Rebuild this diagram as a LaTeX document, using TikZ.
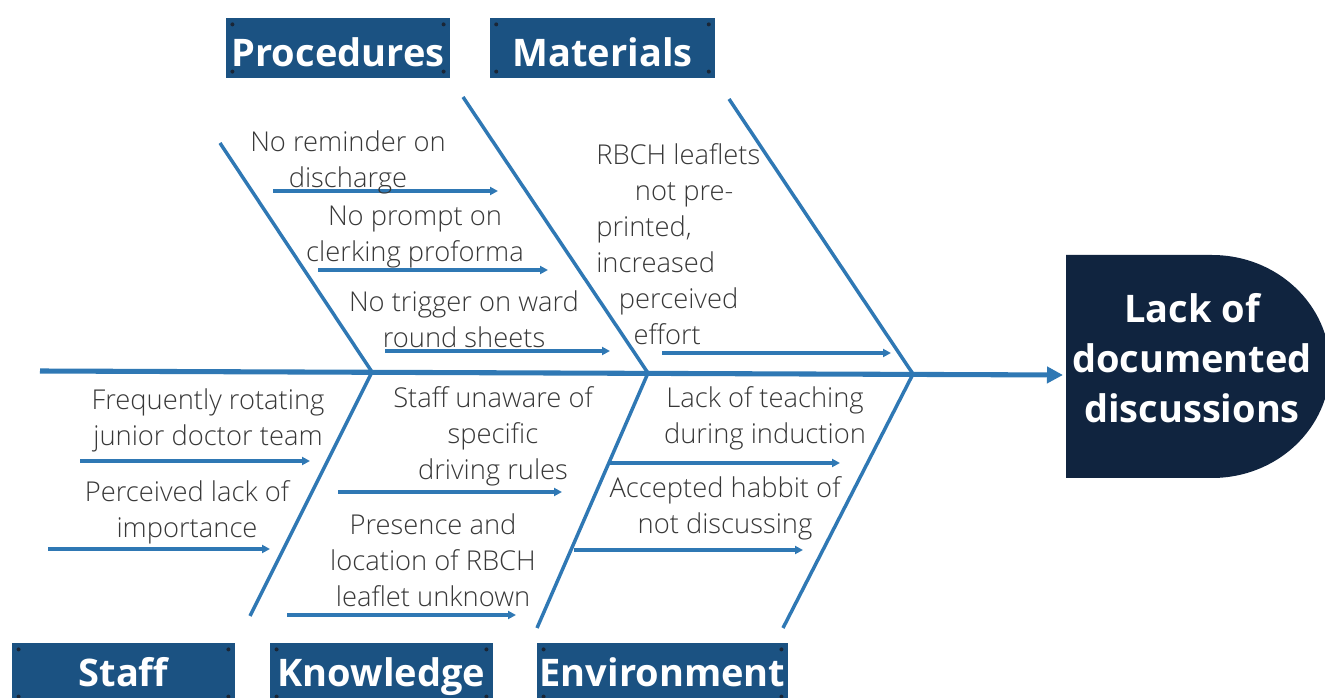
\documentclass[tikz,border=0pt]{standalone}
\usepackage{fontspec}
\setmainfont{Open Sans}
\newfontfamily\lightfont{Open Sans Light}
\usetikzlibrary{arrows.meta}
\definecolor{bone}{HTML}{2F78B4}
\definecolor{hdrblue}{HTML}{1B5282}
\definecolor{headnavy}{HTML}{10243F}
\definecolor{screw}{HTML}{1A2636}
\definecolor{txt}{HTML}{383838}
\tikzset{
  bonestyle/.style={draw=bone, line width=2.6pt},
  spinestyle/.style={draw=bone, line width=3.8pt, -{Triangle[length=12pt,width=12pt]}},
  cause/.style={draw=bone, line width=2.4pt, -{Triangle[length=6pt,width=6pt]}},
  hdr/.style={fill=hdrblue, text=white, font=\fontsize{28.5}{30}\selectfont\bfseries,
    minimum height=45pt, inner sep=0pt, text height=28pt, text depth=0pt},
  hdrlow/.style={hdr, text height=20pt},
  item/.style={text=txt, font=\lightfont\fontsize{20.5}{27}\selectfont, align=center, inner sep=0pt},
}
\newcommand{\screws}[1]{%
  \fill[screw] ([shift={(5pt,-5pt)}]#1.north west) circle (1.5pt);
  \fill[screw] ([shift={(-5pt,-5pt)}]#1.north east) circle (1.5pt);
  \fill[screw] ([shift={(5pt,5pt)}]#1.south west) circle (1.5pt);
  \fill[screw] ([shift={(-5pt,5pt)}]#1.south east) circle (1.5pt);}
\begin{document}
\begin{tikzpicture}[x=0.75pt,y=-0.75pt]
\useasboundingbox (0,0) rectangle (1325,698);
\fill[white] (0,0) rectangle (1325,698);

% effect head
\fill[headnavy] (1066,255) -- (1212,255) arc[start angle=-90, end angle=90, x radius=118, y radius=111.5] -- (1066,478) -- cycle;
\node[text=white, font=\fontsize{28.5}{37.5}\selectfont\bfseries, align=center, inner sep=0pt] (effect) at (1192,358) {Lack of\\documented\\discussions};
\coordinate (effin) at (1063,375);

% spine
\coordinate (tail) at (40,371);
\draw[spinestyle] (tail) -- (effin);

% bone end points
\coordinate (p1) at (220,143); \coordinate (j1) at (372,372);
\coordinate (p2) at (463,97);  \coordinate (j2) at (648,373);
\coordinate (p3) at (729,99);  \coordinate (j3) at (913,374);
\coordinate (q1) at (250,616);
\coordinate (q2) at (537,628);
\coordinate (q3) at (783,628);
\draw[bonestyle] (p1) -- (j1) -- (q1);
\draw[bonestyle] (p2) -- (j2) -- (q2);
\draw[bonestyle] (p3) -- (j3) -- (q3);

% category labels
\node[hdr, minimum width=168pt] (proc) at (338,48) {Procedures};
\node[hdr, minimum width=169pt] (mat) at (602.5,48) {Materials};
\node[hdrlow, minimum width=167pt] (staff) at (123.5,673) {Staff};
\node[hdrlow, minimum width=167pt] (know) at (381.5,673) {Knowledge};
\node[hdrlow, minimum width=188pt] (env) at (662.5,673) {Environment};
\screws{proc}\screws{mat}\screws{staff}\screws{know}\screws{env}

% cause arrows
\coordinate (a1s) at (273,191); \coordinate (a1e) at (498,191);
\coordinate (a2s) at (318,270); \coordinate (a2e) at (548,270);
\coordinate (a3s) at (385,351); \coordinate (a3e) at (610,351);
\coordinate (a4s) at (662,353); \coordinate (a4e) at (891,353);
\coordinate (b1s) at (80,461);  \coordinate (b1e) at (310,461);
\coordinate (b2s) at (48,549);  \coordinate (b2e) at (270,549);
\coordinate (b3s) at (338,492); \coordinate (b3e) at (562,492);
\coordinate (b4s) at (287,615); \coordinate (b4e) at (516,615);
\coordinate (b5s) at (610,463); \coordinate (b5e) at (840,463);
\coordinate (b6s) at (574,550); \coordinate (b6e) at (803,550);
\foreach \s/\e in {a1s/a1e,a2s/a2e,a3s/a3e,a4s/a4e,b1s/b1e,b2s/b2e,b3s/b3e,b4s/b4e,b5s/b5e,b6s/b6e}
  \draw[cause] (\s) -- (\e);

% cause texts
\node[item] (t1) at (348,162) {No reminder on\\discharge};
\node[item] (t2) at (415,237) {No prompt on\\clerking proforma};
\node[item] (t3) at (464,319) {No trigger on ward\\round sheets};
\node[item, align=left, anchor=north west] (t4) at (596,143) {RBCH leaflets\\\hspace*{29pt}not pre-\\printed,\\increased\\\hspace*{17pt}perceived\\\hspace*{28pt}effort};
\node[item] (t5) at (208,420) {Frequently rotating\\junior doctor team};
\node[item] (t6) at (187,512) {Perceived lack of\\importance};
\node[item] (t7) at (493,436) {Staff unaware of\\specific\\driving rules};
\node[item] (t8) at (433,560) {Presence and\\location of RBCH\\leaflet unknown};
\node[item] (t9) at (765,418) {Lack of teaching\\during induction};
\node[item] (t10) at (725,508) {Accepted habbit of\\not discussing};
\end{tikzpicture}
\end{document}
